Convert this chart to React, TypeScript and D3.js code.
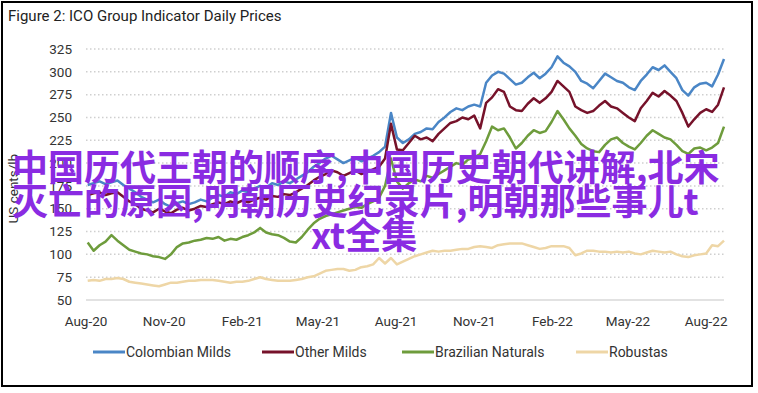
import React from 'react'
import * as d3 from 'd3'

// weekly observations, first Monday of Aug 2020 to Aug 22 2022
const firstWeek = '2020-08-03'
const weekCount = 108

const colombianMilds = [
  176, 178, 180, 177, 179, 181, 176, 172, 168, 163,
  160, 157, 160, 155, 152, 156, 158, 155, 157, 160,
  158, 162, 165, 163, 168, 166, 170, 168, 172, 175,
  173, 178, 176, 180, 178, 182, 186, 190, 196, 200,
  205, 208, 204, 200, 203, 206, 202, 205, 208, 212,
  218, 255, 228, 222, 226, 232, 234, 238, 237, 245,
  250, 256, 260, 258, 262, 264, 262, 288, 296, 300,
  298, 292, 286, 288, 294, 299, 293, 298, 305, 317,
  310, 306, 300, 290, 287, 282, 290, 298, 294, 290,
  288, 283, 280, 290, 297, 305, 302, 307, 300, 293,
  280, 274, 283, 287, 288, 284, 297, 314,
]
const otherMilds = [
  165, 167, 168, 165, 167, 168, 163, 158, 155, 150,
  148, 146, 150, 147, 145, 149, 151, 148, 150, 153,
  152, 155, 157, 155, 158, 156, 159, 157, 160, 162,
  160, 164, 163, 166, 165, 168, 172, 176, 181, 185,
  188, 192, 190, 186, 189, 192, 188, 190, 193, 196,
  205, 243, 215, 214, 222, 230, 226, 228, 224, 232,
  238, 244, 246, 250, 248, 252, 238, 266, 272, 281,
  278, 262, 258, 257, 265, 271, 266, 271, 278, 290,
  284, 278, 262, 258, 255, 257, 263, 268, 262, 260,
  255, 250, 246, 260, 268, 277, 273, 279, 274, 268,
  255, 240, 248, 255, 259, 256, 264, 283,
]
const brazilianNaturals = [
  113, 104, 110, 114, 121, 115, 110, 105, 103, 101,
  100, 98, 97, 95, 100, 108, 112, 113, 115, 116,
  118, 117, 119, 115, 117, 116, 119, 121, 124, 129,
  124, 122, 121, 118, 114, 113, 119, 127, 134, 139,
  142, 144, 146, 148, 150, 152, 151, 155, 158, 162,
  175, 205, 180, 172, 178, 182, 180, 186, 184, 188,
  192, 196, 200, 198, 204, 206, 210, 224, 240, 236,
  238, 228, 216, 222, 230, 236, 233, 235, 245, 257,
  248, 238, 230, 221, 216, 213, 212, 220, 226, 228,
  222, 218, 215, 222, 230, 236, 232, 228, 226, 220,
  213, 210, 216, 217, 214, 217, 222, 240,
]
const robustas = [
  71, 72, 71, 73, 73, 74, 73, 70, 69, 68,
  67, 66, 65, 67, 69, 69, 70, 71, 71, 72,
  72, 72, 71, 70, 69, 70, 70, 71, 73, 75,
  73, 72, 71, 71, 71, 72, 73, 75, 76, 79,
  82, 83, 84, 84, 82, 83, 86, 87, 89, 96,
  90, 96, 89, 92, 95, 98, 100, 102, 104, 103,
  104, 104, 105, 106, 106, 108, 109, 108, 107, 110,
  111, 112, 112, 112, 110, 108, 106, 107, 109, 109,
  109, 107, 99, 101, 104, 104, 103, 103, 102, 103,
  102, 103, 101, 100, 102, 104, 103, 102, 103, 100,
  98, 97, 99, 100, 101, 110, 109, 115,
]

const seriesNames = ['Colombian Milds', 'Other Milds', 'Brazilian Naturals', 'Robustas']
const seriesColors = ['#4a86c6', '#76122a', '#6e9c3c', '#eed6a6']
const yTicks = [50, 75, 100, 125, 150, 175, 200, 225, 250, 275, 300, 325]
const xTickDates = ['2020-08-01', '2020-11-01', '2021-02-01', '2021-05-01', '2021-08-01',
  '2021-11-01', '2022-02-01', '2022-05-01', '2022-08-01']
const overlayLines = ['中国历代王朝的顺序,中国历史朝代讲解,北宋', '灭亡的原因,明朝历史纪录片,明朝那些事儿t', 'xt全集']

const W = 758
const H = 393
const FONT = "Roboto, 'Liberation Sans', sans-serif"

export default function App() {
  const parse = d3.timeParse('%Y-%m-%d')
  const start = parse(firstWeek)!
  const dates = d3.range(weekCount).map(i => d3.timeDay.offset(start, i * 7))

  const x = d3.scaleTime()
    .domain([parse('2020-08-01')!, parse('2022-08-22')!])
    .range([86, 724])
  const y = d3.scaleLinear().domain([50, 325]).range([300, 49])

  const allSeries = [colombianMilds, otherMilds, brazilianNaturals, robustas]
  const line = d3.line<number>()
    .x((d, i) => x(dates[i]))
    .y(d => y(d))

  const fmt = d3.timeFormat('%b-%y')
  const legendX = [93, 262, 402, 576]

  return (
    <div style={{ position: 'absolute', left: 0, top: 0 }}>
      <svg width={W} height={H} style={{ display: 'block', background: '#fff' }}>
        <rect x={2} y={2} width={750} height={384} fill="#fff" stroke="#000" strokeWidth={2} />
        <text x={8} y={21} fontFamily={FONT} fontSize={15} fill="#222">
          Figure 2: ICO Group Indicator Daily Prices
        </text>

        {/* grid */}
        {yTicks.map(t => (
          <g key={t}>
            {t > 50 && (
              <line x1={86} x2={724} y1={y(t)} y2={y(t)} stroke="#cfcfcf"
                strokeWidth={1.5} strokeDasharray="1.5 2.5" />
            )}
            <text x={72} y={y(t)} dy="0.35em" textAnchor="end" fontFamily={FONT}
              fontSize={13.5} fill="#333">{t}</text>
          </g>
        ))}
        <line x1={86} x2={724} y1={y(50)} y2={y(50)} stroke="#d9d9d9" strokeWidth={1.5} />

        {xTickDates.map(s => {
          const d = parse(s)!
          return (
            <text key={s} x={x(d)} y={326} textAnchor="middle" fontFamily={FONT}
              fontSize={13.5} fill="#333">{fmt(d)}</text>
          )
        })}

        <text transform={`translate(18,${y(172)}) rotate(-90)`} textAnchor="middle"
          fontFamily={FONT} fontSize={13.5} fill="#333">US cents/lb</text>

        {allSeries.map((s, i) => (
          <path key={seriesNames[i]} d={line(s) ?? ''} fill="none" stroke={seriesColors[i]}
            strokeWidth={2.5} strokeLinejoin="round" />
        ))}

        {/* legend */}
        {seriesNames.map((n, i) => (
          <g key={n} transform={`translate(${legendX[i]},352)`}>
            <line x1={0} x2={32} y1={0} y2={0} stroke={seriesColors[i]} strokeWidth={3} />
            <text x={33} y={0} dy="0.35em" fontFamily={FONT} fontSize={14} fill="#333">{n}</text>
          </g>
        ))}

        {/* overlay text */}
        <g fontFamily="'Noto Sans CJK SC', sans-serif" fontWeight="bold" fontSize={36} fill="#8a2be2">
          <text x={12} y={181}>{overlayLines[0]}</text>
          <text x={12} y={215}>{overlayLines[1]}</text>
          <text x={311} y={249}>{overlayLines[2]}</text>
        </g>
      </svg>
    </div>
  )
}
